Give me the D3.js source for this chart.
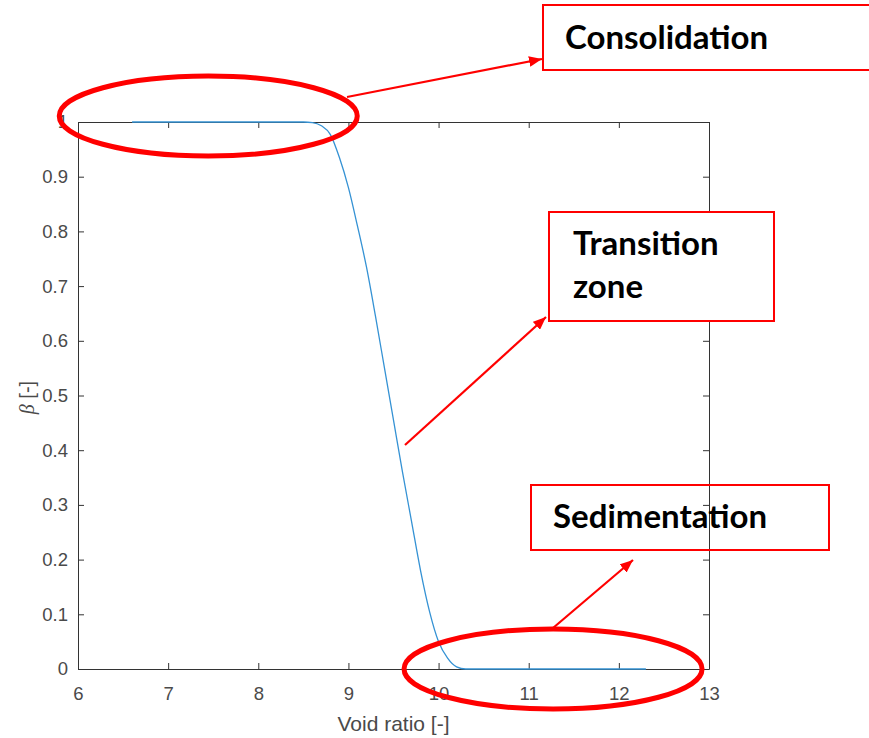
<!DOCTYPE html>
<html>
<head>
<meta charset="utf-8">
<script src="https://cdn.jsdelivr.net/npm/d3@7"></script>
<style>
  html, body { margin: 0; padding: 0; background: #fff; }
  svg { display: block; }
</style>
</head>
<body>
<svg id="chart" width="869" height="738"></svg>
<script>
// beta as a function of void ratio
const voidRatio = [6.6, 7.0, 7.5, 8.0, 8.5, 8.6, 8.7, 8.8, 8.9, 9.0, 9.1, 9.2, 9.3, 9.4, 9.5, 9.6, 9.7, 9.8, 9.9, 10.0, 10.1, 10.2, 10.3, 10.5, 11, 11.5, 12, 12.3];
const beta      = [1, 1, 1, 1, 1, 0.999, 0.993, 0.977, 0.935, 0.88, 0.81, 0.735, 0.645, 0.55, 0.455, 0.36, 0.27, 0.18, 0.105, 0.05, 0.02, 0.004, 0, 0, 0, 0, 0, 0];

const xTicks = [6, 7, 8, 9, 10, 11, 12, 13];
const yTicks = [0, 0.1, 0.2, 0.3, 0.4, 0.5, 0.6, 0.7, 0.8, 0.9, 1];

// annotation labels (one entry per line of text)
const zoneLabels = [["Consolidation"], ["Transition", "zone"], ["Sedimentation"]];

const svg = d3.select("#chart");
const plotLeft = 78, plotRight = 709, plotTop = 122, plotBottom = 669;

const x = d3.scaleLinear().domain([6, 13]).range([plotLeft, plotRight]);
const y = d3.scaleLinear().domain([0, 1]).range([plotBottom, plotTop]);

const axisColor = "#333333";
const labelColor = "#4a4a4a";
const tickLen = 6;
const sans = "'Liberation Sans', Arial, sans-serif";

const axes = svg.append("g");

// bottom and left axes with inward ticks
axes.append("g").attr("transform", `translate(0,${plotBottom})`)
  .call(d3.axisBottom(x).tickValues(xTicks).tickFormat(d3.format("d")).tickSizeInner(-tickLen).tickSizeOuter(0).tickPadding(18));
axes.append("g").attr("transform", `translate(${plotLeft},0)`)
  .call(d3.axisLeft(y).tickValues(yTicks).tickFormat(d => d === 0 || d === 1 ? String(d) : d3.format(".1f")(d)).tickSizeInner(-tickLen).tickSizeOuter(0).tickPadding(10));
// mirrored top and right axes
axes.append("g").attr("transform", `translate(0,${plotTop})`)
  .call(d3.axisTop(x).tickValues(xTicks).tickFormat("").tickSizeInner(-tickLen).tickSizeOuter(0));
axes.append("g").attr("transform", `translate(${plotRight},0)`)
  .call(d3.axisRight(y).tickValues(yTicks).tickFormat("").tickSizeInner(-tickLen).tickSizeOuter(0));

axes.selectAll(".domain, .tick line").attr("stroke", axisColor).attr("stroke-width", 1);
axes.selectAll(".tick text")
  .attr("fill", labelColor)
  .style("font-family", sans)
  .style("font-size", "18.5px");

// axis titles
svg.append("text")
  .attr("x", (plotLeft + plotRight) / 2).attr("y", 731)
  .attr("text-anchor", "middle")
  .attr("fill", labelColor)
  .style("font-family", sans)
  .style("font-size", "21px")
  .text("Void ratio [-]");

const yTitle = svg.append("text")
  .attr("transform", `translate(34,${(plotTop + plotBottom) / 2 + 2}) rotate(-90)`)
  .attr("text-anchor", "middle")
  .attr("fill", labelColor)
  .style("font-family", sans)
  .style("font-size", "20px");
yTitle.append("tspan").style("font-family", "'Liberation Serif', 'DejaVu Serif', serif").style("font-style", "italic").text("β");
yTitle.append("tspan").text(" [-]");

// curve
const line = d3.line()
  .x((d, i) => x(voidRatio[i]))
  .y(d => y(d))
  .curve(d3.curveMonotoneX);

svg.append("path")
  .datum(beta)
  .attr("d", line)
  .attr("fill", "none")
  .attr("stroke", "#3592d4")
  .attr("stroke-width", 1.3);

// annotations
const red = "#ff0000";

svg.append("defs").append("marker")
  .attr("id", "arrowhead")
  .attr("viewBox", "0 0 12 10")
  .attr("refX", 12).attr("refY", 5)
  .attr("markerWidth", 13).attr("markerHeight", 11)
  .attr("markerUnits", "userSpaceOnUse")
  .attr("orient", "auto")
  .append("path").attr("d", "M0,0 L12,5 L0,10 Z").attr("fill", red);

const ann = svg.append("g");

// highlighted regions: flat top near beta = 1 and flat bottom near beta = 0
ann.append("ellipse")
  .attr("cx", x(7.445)).attr("cy", y(1) - 6)
  .attr("rx", 149).attr("ry", 40)
  .attr("fill", "none").attr("stroke", red).attr("stroke-width", 5);
ann.append("ellipse")
  .attr("cx", x(11.27)).attr("cy", y(0))
  .attr("rx", 149).attr("ry", 40)
  .attr("fill", "none").attr("stroke", red).attr("stroke-width", 5);

// arrows
const arrows = [
  [[347, 97], [542, 59]],
  [[405, 445], [546, 317]],
  [[553, 628], [633, 560]]
];
arrows.forEach(([a, b]) => {
  ann.append("line")
    .attr("x1", a[0]).attr("y1", a[1]).attr("x2", b[0]).attr("y2", b[1])
    .attr("stroke", red).attr("stroke-width", 2.2)
    .attr("marker-end", "url(#arrowhead)");
});

// label boxes
const boxes = [
  { x0: 543, y0: 5, w: 327, h: 65, fill: "#fff", tx: 565, ty: [49] },
  { x0: 549, y0: 212, w: 225, h: 109, fill: "#fff", tx: 573, ty: [255, 298] },
  { x0: 531, y0: 485, w: 298, h: 65, fill: "none", tx: 553, ty: [528] }
];
boxes.forEach((b, i) => {
  ann.append("rect")
    .attr("x", b.x0).attr("y", b.y0).attr("width", b.w).attr("height", b.h)
    .attr("fill", b.fill).attr("stroke", red).attr("stroke-width", 2);
  zoneLabels[i].forEach((t, j) => {
    ann.append("text")
      .attr("x", b.tx).attr("y", b.ty[j])
      .attr("fill", "#000")
      .style("font-family", "Lato, 'Open Sans', sans-serif")
      .style("font-weight", "bold")
      .style("font-size", "33px")
      .text(t);
  });
});
</script>
</body>
</html>
